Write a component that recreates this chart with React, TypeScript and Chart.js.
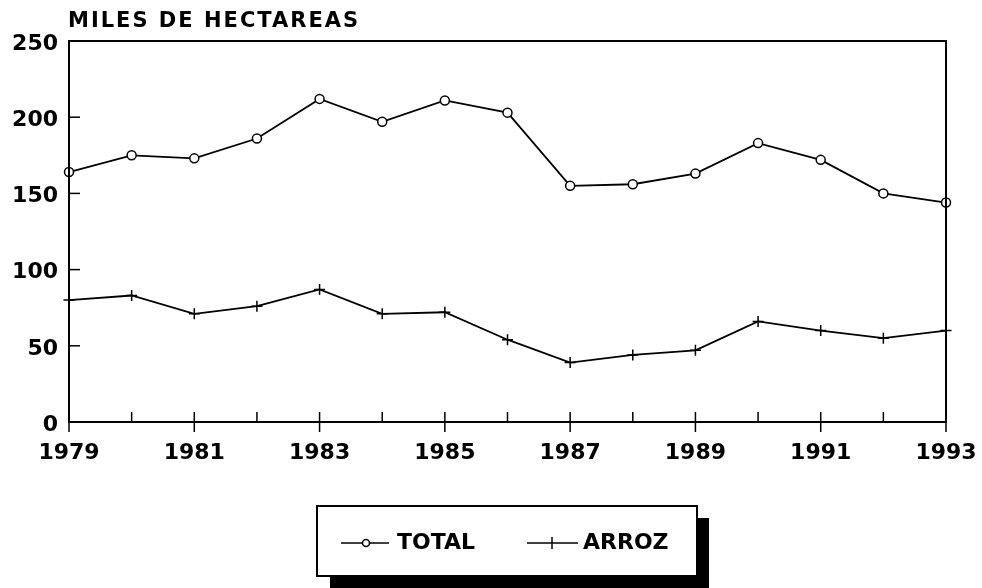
import React, { useEffect, useRef } from "react";
import { Chart, registerables } from "chart.js";

Chart.register(...registerables);

const years = ["1979", "1980", "1981", "1982", "1983", "1984", "1985", "1986", "1987", "1988", "1989", "1990", "1991", "1992", "1993"];
const xTickLabels = ["1979", "1981", "1983", "1985", "1987", "1989", "1991", "1993"];
const totalValues = [164, 175, 173, 186, 212, 197, 211, 203, 155, 156, 163, 183, 172, 150, 144];
const arrozValues = [80, 83, 71, 76, 87, 71, 72, 54, 39, 44, 47, 66, 60, 55, 60];
const yTicks = [0, 50, 100, 150, 200, 250];
const yAxisTitle = "MILES DE HECTAREAS";

const FONT = "'DejaVu Sans', 'Liberation Sans', Arial, sans-serif";

const framePlugin = {
  id: "frameAndTicks",
  afterDraw(chart: any) {
    const { ctx, chartArea, scales } = chart;
    const x = scales.x;
    const y = scales.y;
    ctx.save();
    ctx.strokeStyle = "#000";
    ctx.lineWidth = 2;
    ctx.strokeRect(chartArea.left, chartArea.top, chartArea.right - chartArea.left, chartArea.bottom - chartArea.top);
    ctx.lineWidth = 1.5;
    years.forEach((yr, i) => {
      const px = x.getPixelForValue(i);
      const labelled = xTickLabels.includes(yr);
      ctx.beginPath();
      ctx.moveTo(px, chartArea.bottom - 10);
      ctx.lineTo(px, chartArea.bottom + (labelled ? 10 : 0));
      ctx.stroke();
    });
    yTicks.forEach((v) => {
      const py = y.getPixelForValue(v);
      ctx.beginPath();
      ctx.moveTo(chartArea.left, py);
      ctx.lineTo(chartArea.left + 11, py);
      ctx.stroke();
    });
    ctx.fillStyle = "#000";
    ctx.font = `bold 21px ${FONT}`;
    (ctx as any).letterSpacing = "2px";
    ctx.textAlign = "left";
    ctx.textBaseline = "alphabetic";
    ctx.fillText(yAxisTitle, chartArea.left - 1, 27);
    (ctx as any).letterSpacing = "0px";
    ctx.restore();
  },
};

const legendPlugin = {
  id: "boxLegend",
  afterDraw(chart: any) {
    const { ctx } = chart;
    const ds = chart.data.datasets;
    ctx.save();
    ctx.fillStyle = "#000";
    ctx.fillRect(330, 518, 379, 70);
    ctx.fillStyle = "#fff";
    ctx.fillRect(317, 506, 380, 70);
    ctx.strokeStyle = "#000";
    ctx.lineWidth = 2;
    ctx.strokeRect(317, 506, 380, 70);

    const cy = 543;
    ctx.lineWidth = 1.5;
    ctx.beginPath();
    ctx.moveTo(341, cy);
    ctx.lineTo(389, cy);
    ctx.stroke();
    ctx.beginPath();
    ctx.arc(366, cy, 3.5, 0, Math.PI * 2);
    ctx.fillStyle = "#fff";
    ctx.fill();
    ctx.stroke();
    ctx.beginPath();
    ctx.moveTo(527, cy);
    ctx.lineTo(578, cy);
    ctx.moveTo(552, cy - 6);
    ctx.lineTo(552, cy + 6);
    ctx.stroke();

    ctx.fillStyle = "#000";
    ctx.font = `bold 22px ${FONT}`;
    ctx.textAlign = "left";
    ctx.textBaseline = "middle";
    ctx.fillText(ds[0].label, 397, cy);
    ctx.fillText(ds[1].label, 583, cy);
    ctx.restore();
  },
};

export default function App() {
  const ref = useRef<HTMLCanvasElement | null>(null);
  useEffect(() => {
    if (!ref.current) return;
    const chart = new Chart(ref.current, {
      type: "line",
      data: {
        labels: years,
        datasets: [
          {
            label: "TOTAL",
            data: totalValues,
            borderColor: "#000",
            borderWidth: 1.8,
            pointStyle: "circle",
            pointRadius: 4.5,
            pointBackgroundColor: "#fff",
            pointBorderColor: "#000",
            pointBorderWidth: 1.5,
            tension: 0,
          },
          {
            label: "ARROZ",
            data: arrozValues,
            borderColor: "#000",
            borderWidth: 1.8,
            pointStyle: "cross",
            pointRadius: 5.5,
            pointBorderColor: "#000",
            pointBorderWidth: 1.5,
            tension: 0,
          },
        ],
      },
      options: {
        animation: false,
        responsive: true,
        maintainAspectRatio: false,
        layout: { padding: { top: 41, right: 36, left: 0, bottom: 0 } },
        plugins: {
          legend: { display: false },
          title: { display: false },
          tooltip: { enabled: false },
        },
        scales: {
          x: {
            type: "category",
            offset: false,
            grid: { display: false, drawTicks: false },
            border: { display: false },
            ticks: {
              autoSkip: false,
              maxRotation: 0,
              padding: 18,
              color: "#000",
              font: { family: FONT, size: 22, weight: "bold" },
              callback: (_v: any, i: number) => (xTickLabels.includes(years[i]) ? years[i] : ""),
            },
            afterFit: (s: any) => {
              s.height = 166;
              s.paddingLeft = 0;
              s.paddingRight = 0;
            },
          },
          y: {
            min: 0,
            max: 250,
            grid: { display: false, drawTicks: false },
            border: { display: false },
            ticks: {
              stepSize: 50,
              padding: 11,
              labelOffset: 3,
              color: "#000",
              font: { family: FONT, size: 22, weight: "bold" },
            },
            afterFit: (s: any) => {
              s.width = 69;
              s.paddingTop = 0;
              s.paddingBottom = 0;
            },
          },
        },
      },
      plugins: [framePlugin, legendPlugin],
    });
    return () => chart.destroy();
  }, []);
  return (
    <div style={{ position: "fixed", left: 0, top: 0, width: 982, height: 588, background: "#fff" }}>
      <canvas ref={ref} />
    </div>
  );
}
